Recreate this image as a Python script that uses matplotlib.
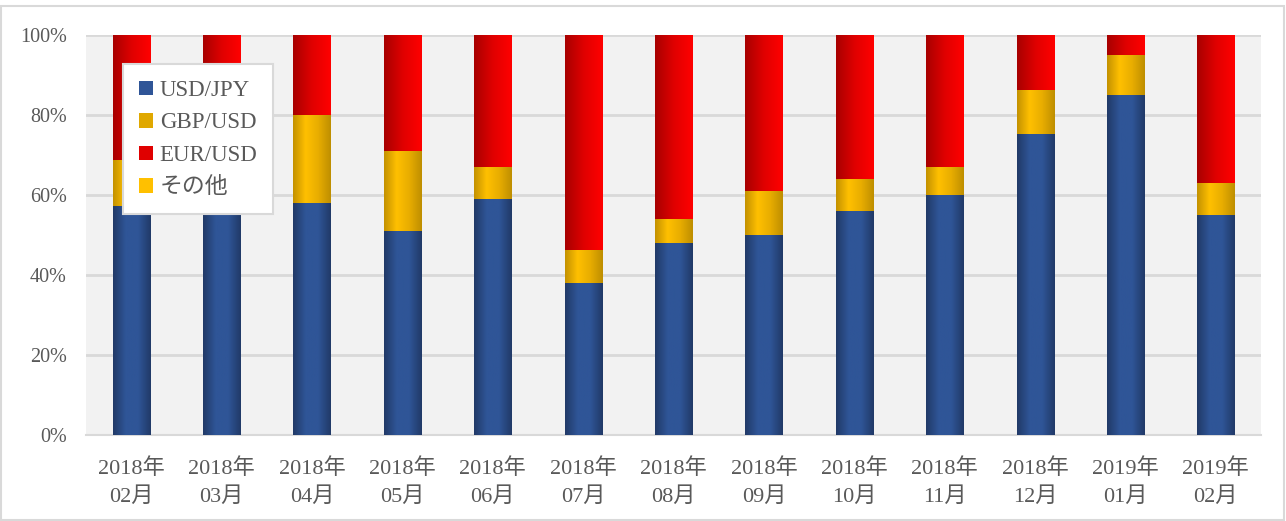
import numpy as np
import matplotlib
matplotlib.use('Agg')
import matplotlib.pyplot as plt
from matplotlib.patches import Patch, Rectangle
from matplotlib.colors import LinearSegmentedColormap

plt.rcParams['font.family'] = ['Liberation Serif', 'Noto Sans CJK JP', 'DejaVu Sans']

# data (percent of total)
months = ['2018年\n02月', '2018年\n03月', '2018年\n04月', '2018年\n05月', '2018年\n06月',
          '2018年\n07月', '2018年\n08月', '2018年\n09月', '2018年\n10月', '2018年\n11月',
          '2018年\n12月', '2019年\n01月', '2019年\n02月']
usd_jpy = [57.3, 59.0, 58.0, 51.0, 59.0, 38.0, 48.0, 50.0, 56.0, 60.0, 75.3, 85.0, 55.0]
gbp_usd = [11.5, 8.0, 22.0, 20.0, 8.0, 8.3, 6.0, 11.0, 8.0, 7.0, 11.0, 10.0, 8.0]
other = [0.0] * 13
eur_usd = [100 - a - b - c for a, b, c in zip(usd_jpy, gbp_usd, other)]
series_names = ['USD/JPY', 'GBP/USD', 'EUR/USD', 'その他']

# gradient colour maps (left -> right across each bar)
grads = {
    'USD/JPY': LinearSegmentedColormap.from_list('b', ['#213a68', '#2f5597', '#2f5597', '#213a68']),
    'GBP/USD': LinearSegmentedColormap.from_list('y', ['#c49200', '#ffc000', '#e8ad00', '#bf8f00']),
    'EUR/USD': LinearSegmentedColormap.from_list('r', ['#a80000', '#e00000', '#ff0000']),
    'その他': LinearSegmentedColormap.from_list('o', ['#ffc000', '#ffc000']),
}
solid = {'USD/JPY': '#2f5597', 'GBP/USD': '#e0a800', 'EUR/USD': '#e00000', 'その他': '#ffc000'}

fig = plt.figure(figsize=(12.86, 5.21), dpi=100)
ax = fig.add_axes([86 / 1286, 86 / 521, 1175 / 1286, 400 / 521])
ax.set_facecolor('#f2f2f2')

x = np.arange(len(months))
width = 0.41
bottom = np.zeros(len(months))
grad_img = np.linspace(0, 1, 64).reshape(1, -1)
for name, vals in zip(series_names, [usd_jpy, gbp_usd, eur_usd, other]):
    bars = ax.bar(x, vals, width, bottom=bottom, color=solid[name], zorder=3, linewidth=0)
    for p in bars:
        if p.get_height() <= 0:
            continue
        x0, y0 = p.get_x(), p.get_y()
        im = ax.imshow(grad_img, cmap=grads[name], aspect='auto', zorder=4,
                       extent=(x0, x0 + p.get_width(), y0, y0 + p.get_height()))
        im.set_clip_path(p)
    bottom += np.array(vals)

ax.set_xlim(-0.5, len(months) - 0.5)
ax.set_ylim(0, 100)
ax.set_yticks(np.arange(0, 101, 20))
ax.set_yticklabels([f'{v}%' for v in range(0, 101, 20)])
ax.set_xticks(x)
ax.set_xticklabels(months, linespacing=1.55)
ax.grid(axis='y', color='#d9d9d9', linewidth=2, zorder=1)
ax.set_axisbelow(True)
ax.tick_params(axis='both', length=0, colors='#595959')
ax.tick_params(axis='y', pad=13.7, labelsize=14.5)
ax.tick_params(axis='x', pad=16.5, labelsize=16)
for s in ['top', 'right', 'left']:
    ax.spines[s].set_visible(False)
ax.spines['bottom'].set_color('#d9d9d9')
ax.spines['bottom'].set_linewidth(1.5)

handles = [Patch(facecolor=solid[n], edgecolor='none') for n in series_names]
leg = ax.legend(handles, series_names, loc='upper left', bbox_to_anchor=(37 / 1175, 1 - 29 / 400),
                borderaxespad=0, fontsize=16.5, frameon=True, fancybox=False, framealpha=1,
                handlelength=0.6, handleheight=0.6, handletextpad=0.3, labelspacing=0.5,
                borderpad=0.7, labelcolor='#595959')
leg.get_frame().set_edgecolor('#d9d9d9')
leg.get_frame().set_linewidth(1.5)
leg.set_zorder(10)

fig.patches.append(Rectangle((1 / 1286, 1 / 521), 1283 / 1286, 514 / 521, transform=fig.transFigure,
                             fill=False, edgecolor='#d9d9d9', linewidth=1.5))

fig.savefig('out.png', dpi=100)
